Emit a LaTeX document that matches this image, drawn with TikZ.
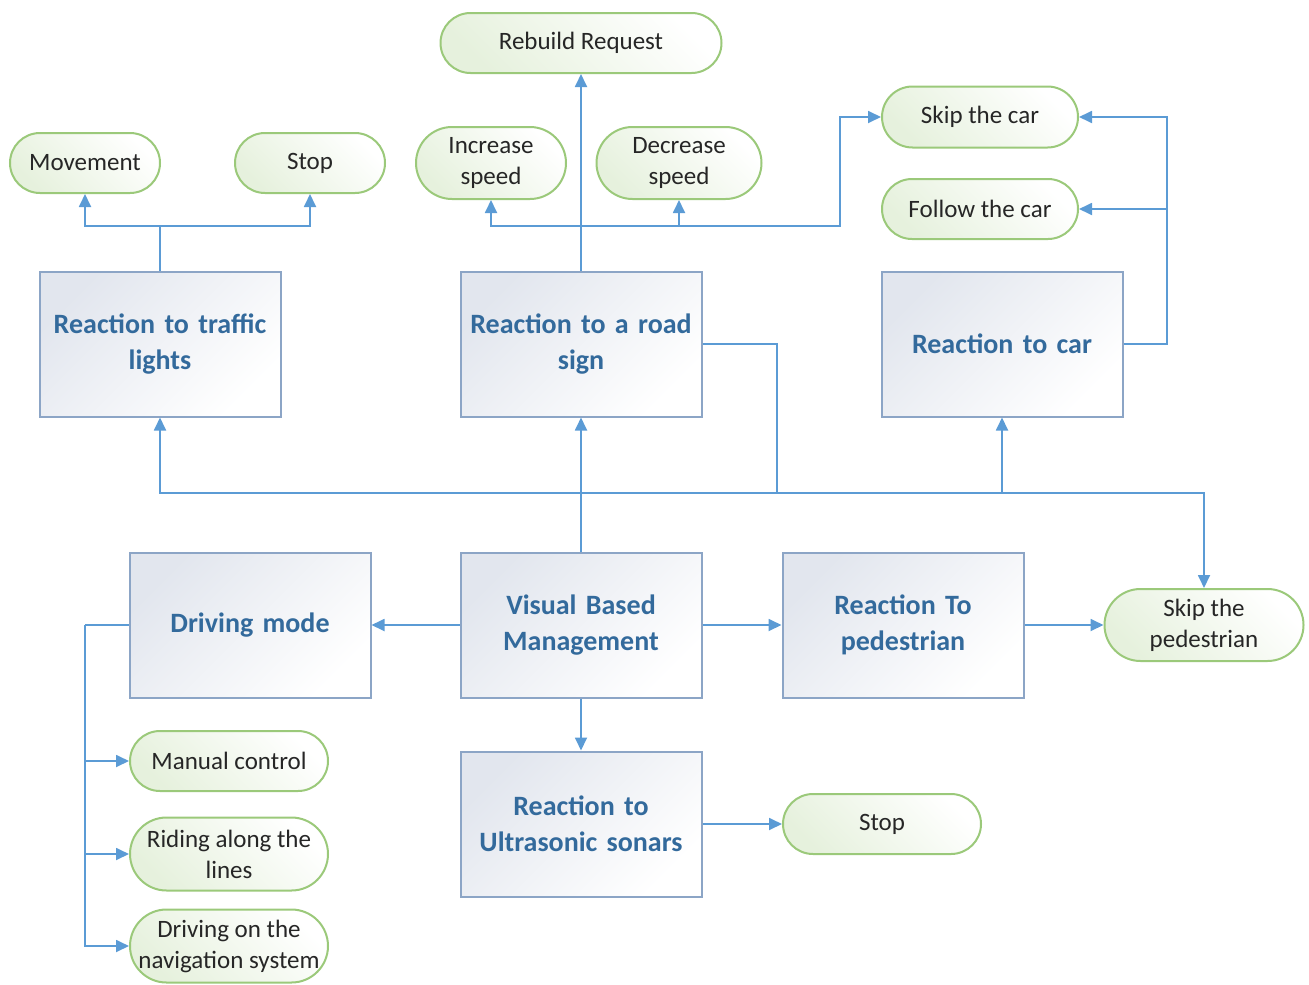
\documentclass[tikz,border=0pt]{standalone}
\usepackage{fontspec}
\setmainfont{Carlito}
\usetikzlibrary{arrows.meta,shapes.misc}
\definecolor{lineblue}{HTML}{5B9BD5}
\definecolor{boxborder}{HTML}{8CA5C6}
\definecolor{boxtop}{HTML}{E2E6EE}
\definecolor{boxtext}{HTML}{336A9C}
\definecolor{greenborder}{HTML}{9BC97A}
\definecolor{greenfill}{HTML}{E6F1DD}
\definecolor{darktext}{HTML}{262626}
\begin{document}
\begin{tikzpicture}[x=1pt,y=-1pt,
 box/.style={draw=boxborder, line width=2pt, top color=boxtop, bottom color=white, shading angle=45,
   minimum width=241pt, minimum height=145pt, text width=238pt, align=center,
   font=\fontsize{28}{36}\selectfont\bfseries, text=boxtext, inner sep=0pt},
 term/.style={rounded rectangle, draw=greenborder, line width=2pt, top color=white, bottom color=greenfill,
   shading angle=-45, text=darktext, font=\fontsize{25}{31}\selectfont, align=center, inner sep=0pt},
 conn/.style={draw=lineblue, line width=1.8pt},
 arr/.style={conn, -{Triangle[length=13pt,width=12pt]}},
]
\useasboundingbox (0,0) rectangle (1309,985);

% boxes
\node[box] (tl) at (160,344) {Reaction to traffic\\lights};
\node[box] (rs) at (581,344) {Reaction to a road\\sign};
\node[box] (rc) at (1002,344) {Reaction to car};
\node[box] (dm) at (250,625) {Driving mode};
\node[box] (vbm) at (581,625) {Visual Based\\Management};
\node[box] (rp) at (903,625) {Reaction To\\pedestrian};
\node[box] (us) at (581,824) {Reaction to\\Ultrasonic sonars};

% terminals
\node[term, minimum width=150pt, minimum height=60pt] (mv) at (85,163) {Movement};
\node[term, minimum width=150pt, minimum height=60pt] (st1) at (310,163) {Stop};
\node[term, minimum width=281pt, minimum height=60pt] (rr) at (581,43) {Rebuild Request};
\node[term, minimum width=150pt, minimum height=72pt] (inc) at (491,163) {Increase\\speed};
\node[term, minimum width=165pt, minimum height=72pt] (dec) at (679,163) {Decrease\\speed};
\node[term, minimum width=196pt, minimum height=61pt] (skc) at (980,117) {Skip the car};
\node[term, minimum width=196pt, minimum height=60pt] (flc) at (980,209) {Follow the car};
\node[term, minimum width=199pt, minimum height=72pt] (skp) at (1204,625) {Skip the\\pedestrian};
\node[term, minimum width=198pt, minimum height=60pt] (mc) at (229,761) {Manual control};
\node[term, minimum width=198pt, minimum height=73pt] (ral) at (229,854) {Riding along the\\lines};
\node[term, minimum width=198pt, minimum height=73pt] (dns) at (229,946) {Driving on the\\\makebox[170pt]{navigation system}};
\node[term, minimum width=198pt, minimum height=60pt] (st2) at (882,824) {Stop};

% junction points
\coordinate (tlj) at (160,226);
\coordinate (rsj) at (581,226);
\coordinate (rsk) at (840,226);
\coordinate (rcr) at (1167,344);
\coordinate (rcm) at (1167,209);
\coordinate (bus) at (581,493);
\coordinate (rsb) at (777,493);
\coordinate (dml) at (85,625);

% traffic lights
\draw[conn] (tl.north) -- (tlj);
\draw[arr] (tlj) -| (mv.south);
\draw[arr] (tlj) -| (st1.south);

% road sign
\draw[arr] (rs.north) -- (rr.south);
\draw[arr] (rsj) -| (inc.south);
\draw[arr] (rsj) -| (dec.south);
\draw[arr] (rsj) -- (rsk) |- (skc.west);
\draw[conn] (rs.east) -| (rsb);

% car
\draw[arr] (rc.east) -- (rcr) |- (skc.east);
\draw[arr] (rcm) -- (flc.east);

% bus from VBM
\draw[conn] (vbm.north) -- (bus);
\draw[arr] (bus) -| (tl.south);
\draw[arr] (bus) -- (rs.south);
\draw[arr] (bus) -| (rc.south);
\draw[arr] (bus) -| (skp.north);

% VBM outputs
\draw[arr] (vbm.west) -- (dm.east);
\draw[arr] (vbm.east) -- (rp.west);
\draw[arr] (rp.east) -- (skp.west);
\draw[arr] (vbm.south) -- (us.north);
\draw[arr] (us.east) -- (st2.west);

% driving mode
\draw[conn] (dm.west) -- (dml);
\draw[arr] (dml) |- (mc.west);
\draw[arr] (dml) |- (ral.west);
\draw[arr] (dml) |- (dns.west);
\end{tikzpicture}
\end{document}
